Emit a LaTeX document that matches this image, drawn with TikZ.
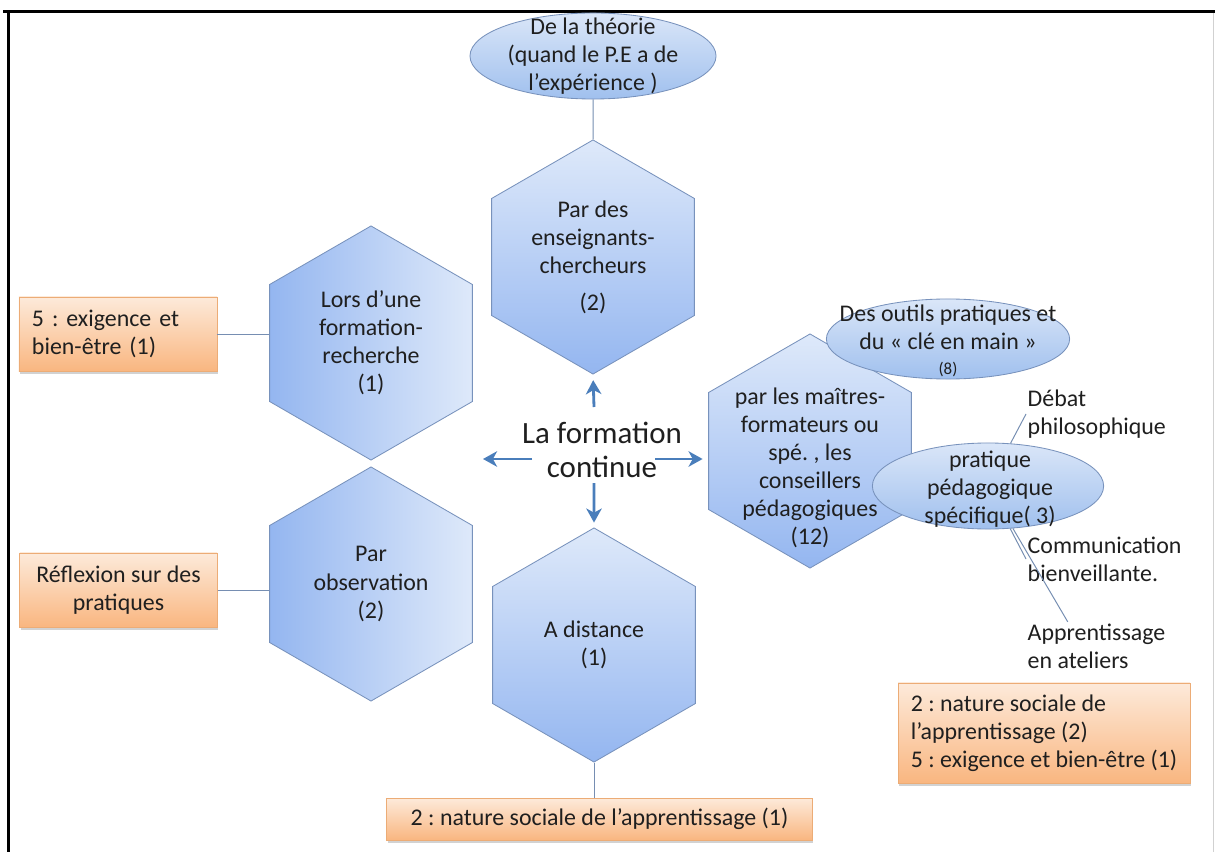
\documentclass[tikz,border=0pt]{standalone}
\usepackage{fontspec}
\setmainfont{Carlito}
\frenchspacing
\usetikzlibrary{
  arrows.meta,
  calc,
  shapes.geometric,
  shadows
}
\definecolor{hexLight}{RGB}{222,233,250}
\definecolor{hexDeep}{RGB}{148,182,240}
\definecolor{hexStroke}{RGB}{120,146,188}
\definecolor{bulleLight}{RGB}{218,230,248}
\definecolor{bulleDeep}{RGB}{160,192,238}
\definecolor{peachLight}{RGB}{253,234,218}
\definecolor{peachDeep}{RGB}{249,182,128}
\definecolor{peachStroke}{RGB}{236,172,118}
\definecolor{arrowBlue}{RGB}{74,126,187}
\definecolor{linkGrey}{RGB}{118,142,178}
\colorlet{ink}{black!88}
\tikzset{
  txt/.style={font=\fontsize{17}{20}\selectfont, text=ink, align=center, inner sep=1pt},
  hexa/.style={
    regular polygon,
    regular polygon sides=6,
    shape border rotate=30,
    draw=hexStroke,
    line width=0.6pt,
    minimum size=5.85cm,
    inner sep=0pt,
    align=center,
    font=\fontsize{17}{20}\selectfont,
    text=ink
  },
  hexa down/.style={hexa, top color=hexLight, bottom color=hexDeep},
  hexa side/.style={hexa, left color=hexDeep, right color=hexLight},
  bulle/.style={
    ellipse,
    draw=hexStroke,
    line width=0.6pt,
    top color=bulleLight,
    bottom color=bulleDeep,
    inner sep=0pt
  },
  notebox/.style={
    rectangle,
    draw=peachStroke,
    line width=0.6pt,
    top color=peachLight,
    bottom color=peachDeep,
    drop shadow={shadow xshift=0.6pt, shadow yshift=-1.8pt, opacity=0.35},
    inner xsep=0.32cm,
    inner ysep=2pt,
    align=left,
    font=\fontsize{17}{20}\selectfont,
    text=ink
  },
  side label/.style={txt, align=left, anchor=west},
  link/.style={draw=linkGrey, line width=0.7pt},
  arrow/.style={-{Stealth[length=10pt,width=11pt,inset=3pt]}, draw=arrowBlue, line width=2pt}
}

\begin{document}
\begin{tikzpicture}[x=0.025cm,y=-0.025cm]
  \useasboundingbox (0,0) rectangle (1215,852);
  \fill[white] (0,0) rectangle (1215,852);

  % cadre
  \draw[line width=2.5pt, black] (3,11.5) -- (1215,11.5);
  \draw[line width=2.5pt, black] (8.5,10.2) -- (8.5,852);
  \draw[line width=0.8pt, black!18] (1213.5,13) -- (1213.5,852);

  % hexagones
  \node[hexa down] (hexTop) at (593,257) {Par des\\enseignants-\\chercheurs\\[6pt](2)};
  \node[hexa side] (hexLR) at (371,343) {Lors d’une\\formation-\\recherche\\(1)};
  \node[hexa side] (hexLO) at (371,584) {Par\\observation\\(2)};
  \node[hexa down] (hexBot) at (594,645) {A distance\\(1)};
  \node[hexa down] (hexR) at (810,451) {};
  \node[txt] (hexR-txt) at (810,468) {par les maîtres-\\formateurs ou\\spé. , les\\conseillers\\pédagogiques\\(12)};

  % bulles
  \node[bulle, minimum width=6.15cm, minimum height=2.15cm] (theorie) at (593,56) {};
  \node[txt] (theorie-txt) at (593,56) {De la théorie\\(quand le P.E a de\\l’expérience )};
  \node[bulle, minimum width=6.08cm, minimum height=2.0cm] (outils) at (948,339) {};
  \node[txt] (outils-txt) at (948,341) {Des outils pratiques et\\du « clé en main »\\[-2pt]{\fontsize{12}{14}\selectfont (8)}};
  \node[bulle, minimum width=5.78cm, minimum height=2.15cm] (pratique) at (988,486) {};
  \node[txt] (pratique-txt) at (990,489) {pratique\\pédagogique\\spécifique( 3)};

  % pratiques citees
  \node[side label] (debat) at (1026,414) {Débat\\philosophique};
  \node[side label] (comm) at (1026,559) {Communication\\bienveillante.};
  \node[side label] (appr) at (1026,646) {Apprentissage\\en ateliers};

  % encadres orange
  \node[notebox, minimum width=4.95cm, minimum height=1.85cm, text width=4.3cm] (exig) at (118,334) {5 : exigence et\\bien-être (1)};
  \node[notebox, minimum width=4.93cm, minimum height=1.85cm, align=center] (refl) at (118.5,590) {Réflexion sur des\\pratiques};
  \node[notebox, minimum width=10.63cm, minimum height=1.05cm] (natureBot) at (599.5,819) {2 : nature sociale de l’apprentissage (1)};
  \node[notebox, minimum width=7.2cm, minimum height=2.5cm] (natureR) at (1044,733) {2 : nature sociale de\\l’apprentissage (2)\\5 : exigence et bien-être (1)};

  % liens
  \draw[link] (theorie.south) -- (hexTop.north);
  \draw[link] (exig.east) -- (exig.east -| hexLR.west);
  \draw[link] (refl.east) -- (refl.east -| hexLO.west);
  \draw[link] (hexBot.south) -- (hexBot.south |- natureBot.north);
  \draw[link] (pratique) -- (debat.west);
  \draw[link] (pratique) -- (comm.west);
  \draw[link] (pratique) -- (appr.140);

  % centre
  \node[font=\fontsize{22}{24}\selectfont, text=ink, align=center, inner sep=0pt] (centre) at (602,450) {La formation\\continue};
  \coordinate (fromN) at (594,407);
  \coordinate (fromW) at (532,459);
  \coordinate (fromE) at (655,459);
  \coordinate (fromS) at (594,483);
  \coordinate (toLeft) at (483,459);
  \draw[arrow, shorten >=4pt] (fromN) -- (hexTop.south);
  \draw[arrow] (fromW) -- (toLeft);
  \draw[arrow, shorten >=4pt] (fromE) -- (fromE -| hexR.west);
  \draw[arrow, shorten >=3.5pt] (fromS) -- (hexBot.north);
\end{tikzpicture}
\end{document}
